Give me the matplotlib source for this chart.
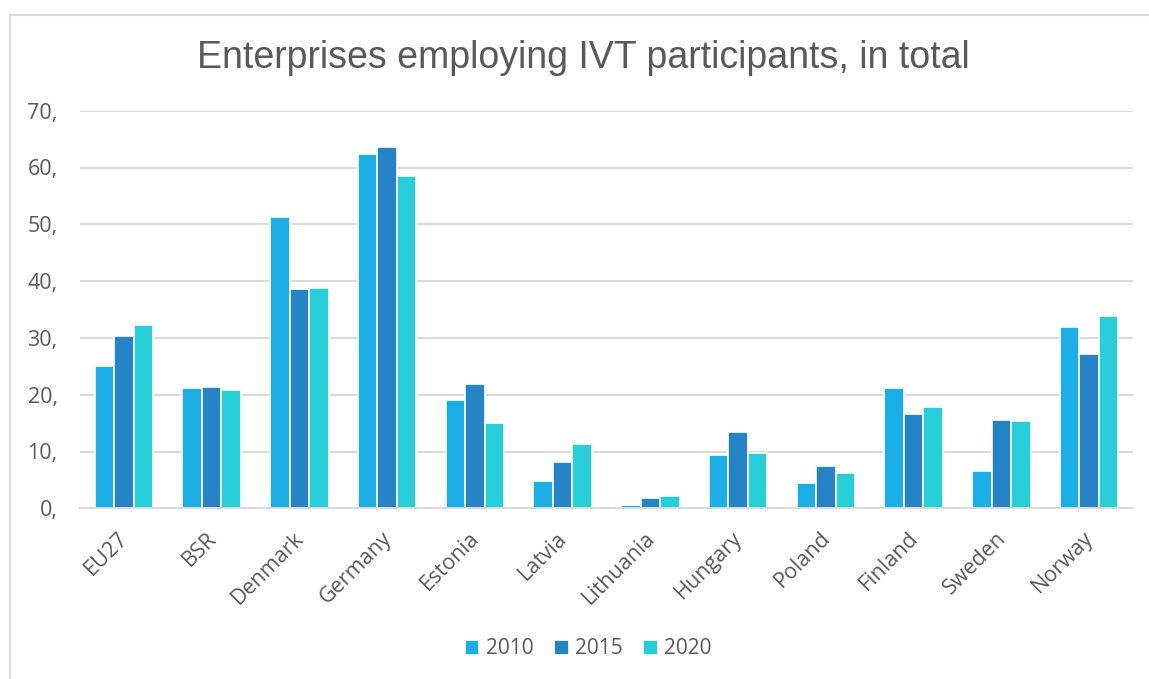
import matplotlib.pyplot as plt
import matplotlib.transforms as mtransforms
import numpy as np
from matplotlib.lines import Line2D

# -------------------------
# Data
# -------------------------
countries = ['EU27', 'BSR', 'Denmark', 'Germany', 'Estonia', 'Latvia',
             'Lithuania', 'Hungary', 'Poland', 'Finland', 'Sweden', 'Norway']

y2010 = [25.1, 21.1, 51.3, 62.4, 19.1, 4.8, 0.5, 9.4, 4.5, 21.1, 6.6, 31.9]
y2015 = [30.4, 21.4, 38.6, 63.6, 21.9, 8.2, 1.8, 13.4, 7.5, 16.6, 15.5, 27.2]
y2020 = [32.3, 20.9, 38.8, 58.5, 15.0, 11.3, 2.2, 9.8, 6.3, 17.8, 15.4, 33.9]

years = ['2010', '2015', '2020']
colors = ['#1CADE4', '#2683C6', '#27CED7']
text_col = '#595959'
grid_col = '#D9D9D9'

x = np.arange(len(countries))
width = 0.222

# -------------------------
# Figure
# -------------------------
fig = plt.figure(figsize=(11.49, 6.79), dpi=100)
ax = fig.add_axes([80 / 1149, (679 - 508.3) / 679, (1133 - 80) / 1149, (508.3 - 110.7) / 679])

for i, (vals, lab, c) in enumerate(zip([y2010, y2015, y2020], years, colors)):
    ax.bar(x + (i - 1) * width, vals, width, color=c, edgecolor='white',
           linewidth=1.2, label=lab, zorder=3)

ax.set_xlim(-0.5, len(countries) - 0.5)
ax.set_ylim(0, 70)
ax.set_yticks(np.arange(0, 71, 10))
ax.set_yticklabels([f'{v},' for v in range(0, 71, 10)])
ax.yaxis.grid(True, color=grid_col, linewidth=1.4, zorder=0)
ax.set_axisbelow(True)

for s in ['top', 'right', 'left']:
    ax.spines[s].set_visible(False)
ax.spines['bottom'].set_color(grid_col)
ax.spines['bottom'].set_linewidth(1.4)
ax.spines['bottom'].set_zorder(4)

ax.tick_params(axis='both', length=0, labelcolor=text_col, labelsize=15.5)
ax.tick_params(axis='y', pad=16)
ax.set_xticks(x)
ax.set_xticklabels(countries, rotation=45, ha='right', va='top',
                   rotation_mode='anchor', family='Open Sans')
ax.tick_params(axis='x', pad=14)
shift = mtransforms.ScaledTranslation(-6 / 100, 0, fig.dpi_scale_trans)
for t in ax.get_xticklabels():
    t.set_transform(t.get_transform() + shift)
for t in ax.get_yticklabels():
    t.set_family('Open Sans')

# title
fig.text(0.508, 1 - 58 / 679, 'Enterprises employing IVT participants, in total',
         ha='center', va='center', fontsize=27, color=text_col,
         family='Liberation Sans')

# legend at the bottom
handles, labels = ax.get_legend_handles_labels()
leg = fig.legend(handles, labels, loc='center', bbox_to_anchor=(0.512, 1 - 649 / 679),
                 ncol=3, frameon=False, handlelength=0.7,
                 handleheight=0.7, handletextpad=0.3, columnspacing=1.0,
                 prop={'family': 'Open Sans', 'size': 15})
for t in leg.get_texts():
    t.set_color(text_col)

# chart-area border (left and top edges)
fig.add_artist(Line2D([10 / 1149, 10 / 1149], [0, 1 - 15 / 679],
                      transform=fig.transFigure, color=grid_col, linewidth=1.5))
fig.add_artist(Line2D([10 / 1149, 1], [1 - 15 / 679, 1 - 15 / 679],
                      transform=fig.transFigure, color=grid_col, linewidth=1.5))

plt.savefig('out.png', dpi=100)
